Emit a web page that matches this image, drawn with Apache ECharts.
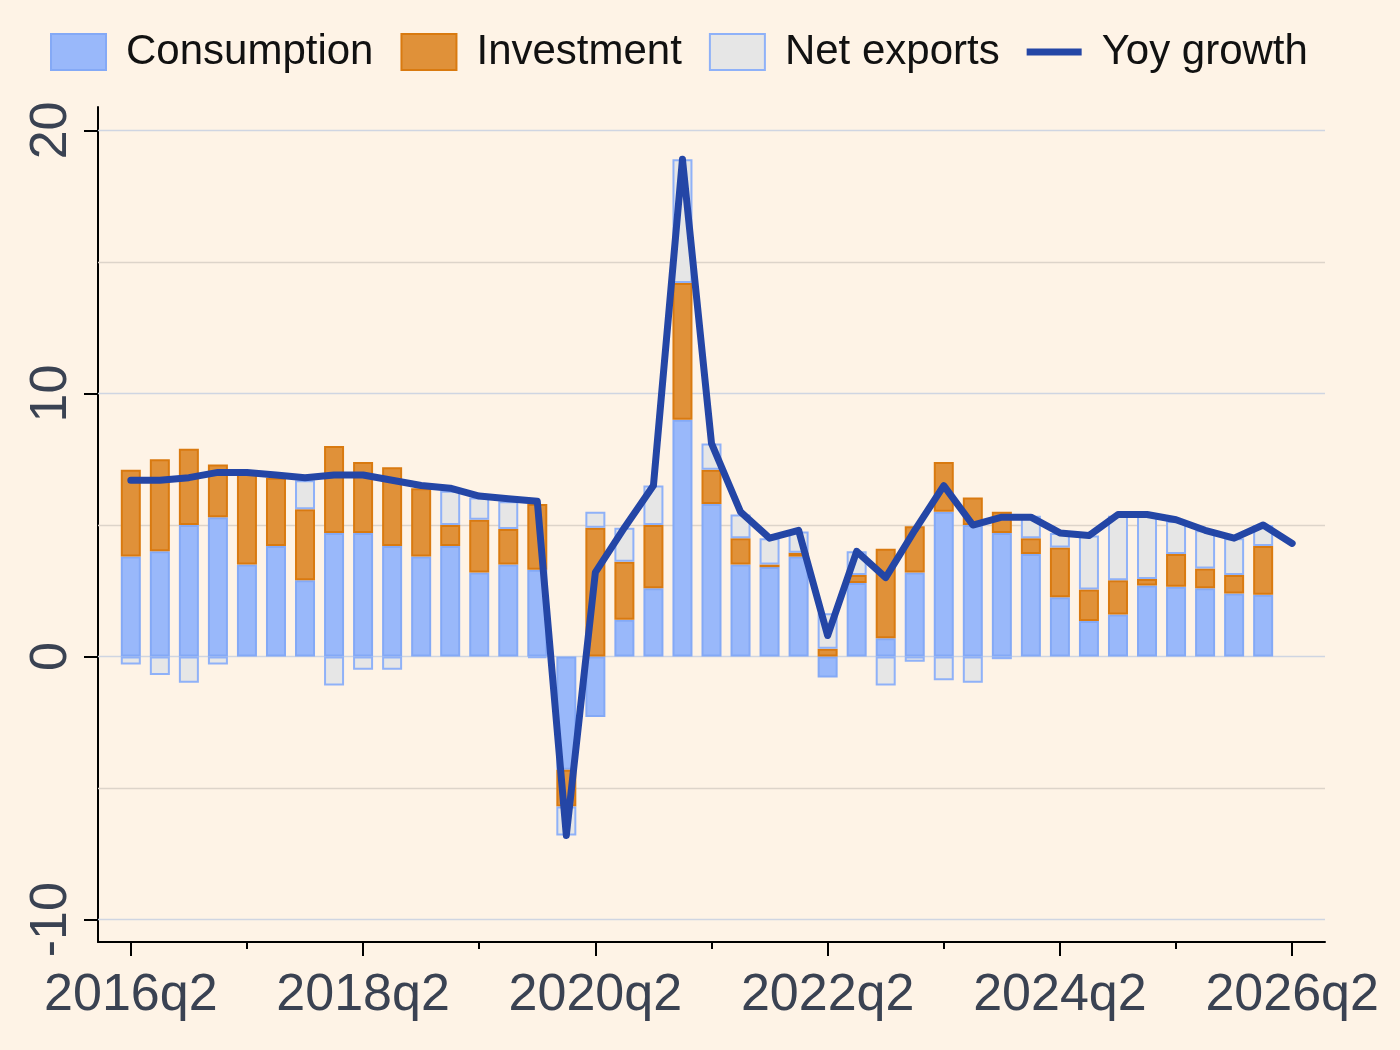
<!DOCTYPE html>
<html>
<head>
<meta charset="utf-8">
<script src="https://cdn.jsdelivr.net/npm/echarts@6/dist/echarts.min.js"></script>
<style>
html,body{margin:0;padding:0;background:#fef3e6;}
#chart{width:1400px;height:1050px;}
</style>
</head>
<body>
<div id="chart"></div>
<script>
const quarters = ['2016q2','2016q3','2016q4','2017q1','2017q2','2017q3','2017q4','2018q1','2018q2','2018q3','2018q4',
  '2019q1','2019q2','2019q3','2019q4','2020q1','2020q2','2020q3','2020q4','2021q1','2021q2','2021q3','2021q4',
  '2022q1','2022q2','2022q3','2022q4','2023q1','2023q2','2023q3','2023q4','2024q1','2024q2','2024q3','2024q4',
  '2025q1','2025q2','2025q3','2025q4','2026q1','2026q2'];
const xTickLabels = ['2016q2','2018q2','2020q2','2022q2','2024q2','2026q2'];
const xMinorTicks = ['2017q2','2019q2','2021q2','2023q2','2025q2'];
const yTickLabels = [-10, 0, 10, 20];
const yGridMajor = [-10, 0, 10, 20];
const yGridMinor = [-5, 5, 15];

const consumption = [3.8,4.0,5.0,5.3,3.5,4.2,2.9,4.7,4.7,4.2,3.8,4.2,3.2,3.5,3.3,-4.3,-2.3,1.4,2.6,9.0,
  5.8,3.5,3.4,3.8,-0.8,2.8,0.7,3.2,5.5,5.0,4.7,3.9,2.25,1.35,1.6,2.7,2.65,2.6,2.4,2.35];
const investment = [3.3,3.5,2.9,2.0,3.5,2.6,2.7,3.3,2.7,3.0,2.6,0.8,2.0,1.35,2.5,-1.4,4.9,2.2,2.4,5.2,
  1.3,1.0,0.1,0.15,0.3,0.3,3.4,1.75,1.9,1.05,0.8,0.6,1.9,1.2,1.3,0.25,1.25,0.75,0.7,1.85];
const netExports = [-0.3,-0.7,-1.0,-0.3,null,null,1.1,-1.1,-0.5,-0.5,null,1.3,0.85,1.05,-0.05,-1.1,0.6,1.3,1.5,4.7,
  1.0,0.9,1.0,0.8,1.35,0.9,-1.1,-0.2,-0.9,-1.0,-0.1,0.85,0.55,2.05,2.45,2.4,1.25,1.45,1.4,0.8];
const yoyGrowth = [6.7,6.7,6.8,7.0,7.0,6.9,6.8,6.9,6.9,6.7,6.5,6.4,6.1,6.0,5.9,-6.8,3.2,4.9,6.5,18.9,
  8.1,5.5,4.5,4.8,0.8,4.0,3.0,4.8,6.5,5.0,5.3,5.3,4.7,4.6,5.4,5.4,5.2,4.8,4.5,5.0,4.3];

const FONT = 'Liberation Sans, Arial, sans-serif';
// value first, quarter index second, so the value dimension is the one that gets stacked
const toPairs = arr => arr.map((v, i) => [v, i]);
const qIndex = q => quarters.indexOf(q);

const chart = echarts.init(document.getElementById('chart'), null, {renderer: 'canvas'});

const gridLines = yGridMajor.map(v => ({yAxis: v, lineStyle: {color: '#cfd5e2', width: 1.3, type: 'solid'}}))
  .concat(yGridMinor.map(v => ({yAxis: v, lineStyle: {color: '#ddd4ca', width: 1.3, type: 'solid'}})));

const option = {
  backgroundColor: '#fef3e6',
  animation: false,
  textStyle: {fontFamily: FONT},
  grid: {left: 98, right: 75, top: 107, bottom: 108, containLabel: false},
  legend: {
    left: 50, top: 31, padding: 0,
    itemWidth: 55, itemHeight: 36, itemGap: 27,
    textStyle: {fontFamily: FONT, fontSize: 42, color: '#111111', padding: [0, 0, 0, 15]},
    data: [
      {name: 'Consumption', icon: 'rect'},
      {name: 'Investment', icon: 'rect'},
      {name: 'Net exports', icon: 'rect'},
      {name: 'Yoy growth', icon: 'path://M0 0H55V7H0Z'}
    ]
  },
  xAxis: [
    {
      type: 'value', min: -1.13, max: 41.13, position: 'bottom',
      axisLine: {show: true, onZero: false, lineStyle: {color: '#000', width: 2}},
      axisTick: {show: true, length: 14, lineStyle: {color: '#000', width: 2}, customValues: xTickLabels.map(qIndex)},
      axisLabel: {customValues: xTickLabels.map(qIndex), formatter: v => quarters[Math.round(v)],
        fontSize: 52, color: '#3a4252', fontFamily: FONT, margin: 28},
      splitLine: {show: false}
    },
    {
      type: 'value', min: -1.13, max: 41.13, position: 'bottom',
      axisLine: {show: false, onZero: false},
      axisTick: {show: true, length: 7, lineStyle: {color: '#000', width: 2}, customValues: xMinorTicks.map(qIndex)},
      axisLabel: {show: false},
      splitLine: {show: false}
    }
  ],
  yAxis: {
    type: 'value', min: -10.85, max: 20.89,
    axisLine: {show: true, onZero: false, lineStyle: {color: '#000', width: 2}},
    axisTick: {show: true, length: 14, lineStyle: {color: '#000', width: 2}, customValues: yTickLabels},
    axisLabel: {customValues: yTickLabels, rotate: 90, fontSize: 52, color: '#3a4252', fontFamily: FONT, margin: 20},
    splitLine: {show: false}
  },
  series: [
    {
      name: '_grid', type: 'line', data: [], silent: true, z: 0,
      markLine: {silent: true, z: 1, symbol: ['none', 'none'], label: {show: false}, animation: false, data: gridLines}
    },
    {
      name: 'Consumption', type: 'bar', stack: 'gdp', barWidth: 20, z: 2,
      encode: {x: 1, y: 0},
      itemStyle: {color: '#99b8fa', borderColor: '#84a9f6', borderWidth: 2},
      data: toPairs(consumption)
    },
    {
      name: 'Investment', type: 'bar', stack: 'gdp', barWidth: 20, z: 2,
      encode: {x: 1, y: 0},
      itemStyle: {color: '#e09139', borderColor: '#d97a10', borderWidth: 2},
      data: toPairs(investment)
    },
    {
      name: 'Net exports', type: 'bar', stack: 'gdp', barWidth: 20, z: 2,
      encode: {x: 1, y: 0},
      itemStyle: {color: '#e6e6e6', borderColor: '#8fb1f8', borderWidth: 2},
      data: toPairs(netExports)
    },
    {
      name: 'Yoy growth', type: 'line', z: 5, symbol: 'none', showSymbol: false,
      encode: {x: 1, y: 0},
      itemStyle: {color: '#2446a6'},
      lineStyle: {color: '#2446a6', width: 7, cap: 'round', join: 'round'},
      data: toPairs(yoyGrowth)
    }
  ]
};
chart.setOption(option);
</script>
</body>
</html>
